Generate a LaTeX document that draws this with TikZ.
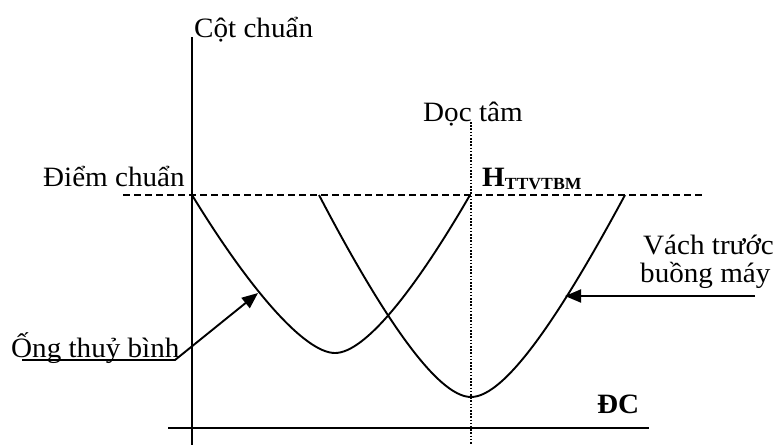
\documentclass[tikz,border=0pt]{standalone}
\usepackage{fontspec}
\setmainfont{Liberation Serif}[FakeStretch=1.04]
\usetikzlibrary{arrows.meta}
\tikzset{
  lbl/.style={inner sep=0pt, anchor=base west, font=\fontsize{28}{30}\selectfont},
  main/.style={line width=1.9pt, line cap=butt},
  curve/.style={line width=1.9pt},
  ref/.style={line width=1.4pt, dash pattern=on 7pt off 4pt},
  axisdot/.style={line width=1.3pt, dash pattern=on 1.6pt off 1.6pt},
  pointer/.style={line width=1.9pt, -{Triangle[length=16pt,width=13pt]}}
}
\begin{document}
\begin{tikzpicture}[x=1pt,y=-1pt]
\useasboundingbox (0,0) rectangle (775,445);
% texts
\node[lbl] (cot) at (194,37) {Cột chuẩn};
\node[lbl] (diem) at (43,186) {Điểm chuẩn};
\node[lbl] (doc) at (423,121) {Dọc tâm};
\node[lbl] (H) at (482,186) {{\fontsize{28}{30}\selectfont\bfseries H}\raisebox{-3pt}{\fontsize{17}{18}\selectfont\bfseries TTVTBM}};
\node[lbl] (vach1) at (643,254) {Vách trước};
\node[lbl] (vach2) at (640,282) {buồng máy};
\node[lbl] (ong) at (11,357) {Ống thuỷ bình};
\node[lbl] (dc) at (597,413) {\bfseries ĐC};
% coordinates
\coordinate (ctop) at (192,37);
\coordinate (cbot) at (192,445);
\coordinate (dtop) at (471,122);
\coordinate (dbot) at (471,445);
\coordinate (rl) at (123,195);
\coordinate (rr) at (705,195);
\coordinate (bl) at (168,428);
\coordinate (br) at (649,428);
\coordinate (u1) at (22,360);
\coordinate (u2) at (175,360);
\coordinate (t1) at (258,293);
\coordinate (a2) at (755,296);
\coordinate (t2) at (565,296);
% axes and reference lines
\draw[main] (ctop) -- (cbot);
\draw[axisdot] (dtop) -- (dbot);
\draw[ref] (rl) -- (rr);
\draw[main] (bl) -- (br);
% curves
\draw[curve] (192,195) .. controls (250,290) and (305,353) .. (335,353)
                       .. controls (365,353) and (415,290) .. (470,195);
\draw[curve] (319,195) .. controls (379,310) and (436,397) .. (471,397)
                       .. controls (506,397) and (562,312) .. (625,195);
% pointers
\draw[pointer] (u1) -- (u2) -- (t1);
\draw[pointer] (a2) -- (t2);
\end{tikzpicture}
\end{document}
